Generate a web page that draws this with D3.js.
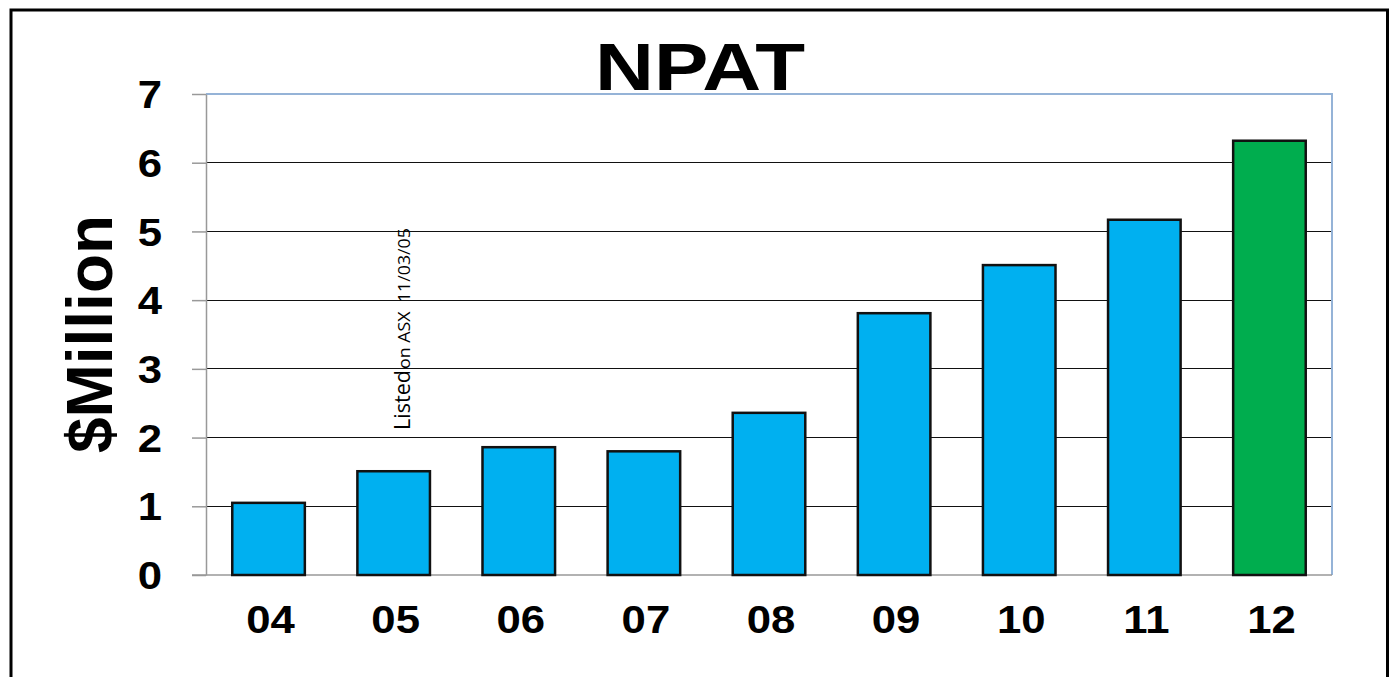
<!DOCTYPE html>
<html><head><meta charset="utf-8">
<script src="https://cdn.jsdelivr.net/npm/d3@7"></script>
<style>body{margin:0;background:#fff;}svg{display:block;}</style>
</head><body>
<script>
const categories = ["04","05","06","07","08","09","10","11","12"];
const values = [1.05, 1.51, 1.86, 1.80, 2.36, 3.81, 4.51, 5.17, 6.32];
const yTicks = [0,1,2,3,4,5,6,7];
const title = "NPAT";
const yTitle = "$Million";
const noteBig = "Listed";
const noteSmall = "on ASX  11/03/05";

const W = 1391, H = 677;
const SX = 1.15; // horizontal stretch of the source text
const svg = d3.select("body").append("svg").attr("width", W).attr("height", H);
svg.append("rect").attr("width", W).attr("height", H).attr("fill", "#fff");
svg.append("path").attr("d", "M11,680 V10 H1387.5 V680").attr("fill","none").attr("stroke","#000").attr("stroke-width",3);

const L = 206, R = 1332, T = 94, B = 575;
const x = d3.scaleBand().domain(categories).range([L, R]).paddingInner(0.42).paddingOuter(0.21);
const y = d3.scaleLinear().domain([0, 7]).range([B, T]);

svg.append("g").selectAll("line").data(yTicks.filter(d => d > 0 && d < 7)).join("line")
  .attr("x1", L).attr("x2", R).attr("y1", d => y(d)).attr("y2", d => y(d))
  .attr("stroke", "#111").attr("stroke-width", 1).attr("shape-rendering","crispEdges");
svg.append("path").attr("d", `M${L},${T}H${R}V${B}`).attr("fill","none").attr("stroke","#95b3d7").attr("stroke-width",1.5).attr("shape-rendering","crispEdges");

// y axis
const yAxis = d3.axisLeft(y).tickValues(yTicks).tickSize(14).tickSizeOuter(0).tickPadding(30).tickFormat(d3.format("d"));
const gy = svg.append("g").attr("transform", `translate(${L},0)`).call(yAxis);
gy.select(".domain").attr("stroke", "#999").attr("stroke-width", 1.5);
gy.selectAll(".tick line").attr("stroke", "#999").attr("stroke-width", 1.5);
gy.selectAll(".tick text").attr("font-family", "Liberation Sans, Arial, sans-serif").attr("font-weight", "bold")
  .attr("font-size", 38).attr("fill", "#000").attr("dy", "0.36em")
  .attr("x", -44 / SX).attr("transform", `scale(${SX},1)`);

// x axis
const xAxis = d3.axisBottom(x).tickSize(0).tickPadding(31);
const gx = svg.append("g").attr("transform", `translate(0,${B})`).call(xAxis);
gx.select(".domain").attr("d", `M${L - 14},0H${R}`).attr("stroke", "#999").attr("stroke-width", 1.5);
gx.selectAll(".tick text").attr("font-family", "Liberation Sans, Arial, sans-serif").attr("font-weight", "bold")
  .attr("font-size", 38).attr("fill", "#000").attr("dy", "0.71em")
  .attr("transform", `translate(2,0) scale(${SX},1)`);

// bars
svg.append("g").selectAll("rect").data(values).join("rect")
  .attr("x", (d, i) => x(categories[i])).attr("width", x.bandwidth())
  .attr("y", d => y(d)).attr("height", d => B - y(d))
  .attr("fill", (d, i) => i === values.length - 1 ? "#00ad4e" : "#00b0f0")
  .attr("stroke", "#111").attr("stroke-width", 2.5);

// title
svg.append("text").attr("x", 700).attr("y", 90).attr("text-anchor", "middle")
  .attr("font-family", "Liberation Sans, Arial, sans-serif").attr("font-weight", "bold").attr("font-size", 67)
  .attr("textLength", 210).attr("lengthAdjust", "spacingAndGlyphs")
  .text(title);

// y title
svg.append("text").attr("transform", "translate(112,334) rotate(-90)").attr("text-anchor", "middle")
  .attr("font-family", "Liberation Sans, Arial, sans-serif").attr("font-weight", "bold").attr("font-size", 64)
  .attr("textLength", 238).attr("lengthAdjust", "spacingAndGlyphs")
  .text(yTitle);

// annotation
svg.append("text").attr("transform", "translate(410,430) rotate(-90)")
  .attr("font-family", "Open Sans, sans-serif").attr("font-size", 21).attr("fill", "#000")
  .attr("textLength", 60).attr("lengthAdjust", "spacingAndGlyphs").text(noteBig);
svg.append("text").attr("transform", "translate(410,369) rotate(-90)")
  .attr("font-family", "Open Sans, sans-serif").attr("font-size", 17).attr("fill", "#000")
  .attr("xml:space", "preserve").style("white-space", "pre")
  .attr("textLength", 141).attr("lengthAdjust", "spacingAndGlyphs").text(noteSmall);
</script>
</body></html>
